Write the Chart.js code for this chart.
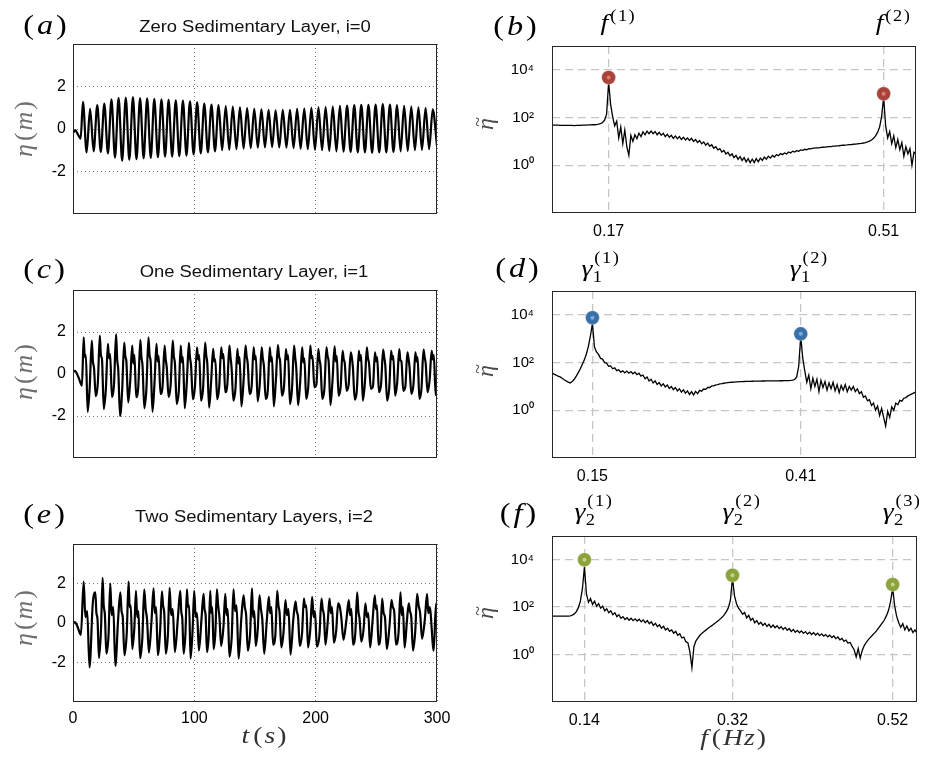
<!DOCTYPE html>
<html><head><meta charset="utf-8">
<script src="https://cdn.jsdelivr.net/npm/chart.js@4.4.1/dist/chart.umd.min.js"></script>
<style>
html,body{margin:0;padding:0;background:#fff;}
#wrap{position:relative;width:934px;height:757px;overflow:hidden;background:#fff;}
#wrap canvas{position:absolute;left:0;top:0;}
</style></head><body><div id="wrap">
<canvas id="cA" width="934" height="757"></canvas>
<canvas id="cB" width="934" height="757"></canvas>
<canvas id="cC" width="934" height="757"></canvas>
<canvas id="cD" width="934" height="757"></canvas>
<canvas id="cE" width="934" height="757"></canvas>
<canvas id="cF" width="934" height="757"></canvas>
</div>
<script>
// ---------------- DATA ----------------
const titles = ['Zero Sedimentary Layer, i=0', 'One Sedimentary Layer, i=1', 'Two Sedimentary Layers, i=2'];
const etaTicks = [-2, 0, 2];
const timeTicks = [0, 100, 200, 300];
const logTicks = [1, 100, 10000];

// time series eta(t) [t (s), eta (m)] (a), (c), (e)
const waveA = [[0,-0.2],[1.8,-0.05],[4,-0.25],[6.3,-0.45],
[8.2,1.28],[11.2,-1.1],[14.1,0.95],[17.0,-1.05],[20.0,1.12],[22.9,-1.08],[25.8,1.2],[28.8,-1.15],[31.7,1.4],[34.6,-1.35],
[37.6,1.47],[40.5,-1.5],[43.5,1.48],[46.4,-1.45],[49.4,1.5],[52.3,-1.42],[55.3,1.46],[58.2,-1.38],[61.1,1.44],[64.1,-1.36],
[67.0,1.42],[70.0,-1.33],[72.9,1.4],[75.9,-1.3],[78.8,1.37],[81.7,-1.3],[84.7,1.35],[87.6,-1.28],[90.6,1.34],[93.5,-1.25],
[96.4,1.3],[99.4,-1.2],[102.3,1.25],[105.3,-1.15],[108.2,1.2],[111.2,-1.1],[114.1,1.15],[117.0,-1.05],[120.0,1.12],[122.9,-1.0],
[125.9,1.08],[128.8,-0.98],[131.7,1.05],[134.7,-0.95],[137.6,1.02],[140.6,-0.92],[143.5,0.98],[146.5,-0.9],[149.4,0.95],[152.3,-0.88],
[155.3,0.92],[158.2,-0.86],[161.2,0.9],[164.1,-0.85],[167.0,0.88],[170.0,-0.87],[172.9,0.9],[175.9,-0.88],[178.8,0.9],[181.8,-0.9],
[184.7,0.95],[187.6,-0.93],[190.6,0.96],[193.5,-0.95],[196.5,1.0],[199.4,-0.98],[202.3,1.02],[205.3,-1.0],[208.2,1.03],[211.2,-1.03],
[214.1,1.06],[217.1,-1.05],[220.0,1.09],[222.9,-1.06],[225.9,1.1],[228.8,-1.08],[231.8,1.12],[234.7,-1.1],[237.6,1.14],[240.6,-1.1],
[243.5,1.14],[246.5,-1.12],[249.4,1.15],[252.4,-1.1],[255.3,1.17],[258.2,-1.1],[261.2,1.15],[264.1,-1.08],[267.1,1.12],[270.0,-1.05],
[272.9,1.09],[275.9,-1.03],[278.8,1.05],[281.8,-1.0],[284.7,1.02],[287.6,-0.98],[290.6,0.98],[293.5,-0.95],[296.5,0.93],[300,-0.8]];

const waveC = [[0,0.08],[1.5,0.15],[4.5,-0.15],[7.4,-0.55],
[8.8,1.75],[9.7,0.8],[10.6,0.9],[12.1,-1.8],[13.8,-0.6],
[15.5,1.59],[16.4,0.6],[17.3,0.3],[18.8,-1.06],[20.5,-0.4],
[22.1,1.83],[23.0,0.9],[23.9,0.7],[25.4,-1.67],[27.1,-0.7],
[28.8,1.43],[29.7,0.75],[30.6,0.95],[32.1,-1.1],[33.8,-0.5],
[35.5,1.9],[36.4,0.7],[37.3,0.2],[38.8,-2.0],[40.5,-0.8],
[42.2,1.5],[43.1,0.85],[44.0,0.6],[45.5,-1.35],[47.2,-0.3],
[48.8,1.35],[49.7,0.5],[50.6,0.9],[52.1,-1.1],[53.8,-0.6],
[55.5,1.63],[56.4,0.8],[57.3,0.4],[58.8,-1.63],[60.5,-0.7],
[62.2,1.75],[63.1,0.9],[64.0,0.6],[65.5,-1.8],[67.2,-0.4],
[68.8,1.43],[69.7,0.6],[70.6,0.85],[72.1,-0.95],[73.8,-0.6],
[75.5,1.35],[76.4,0.7],[77.3,0.3],[78.8,-1.1],[80.5,-0.5],
[82.2,1.59],[83.1,0.85],[84.0,0.5],[85.5,-1.43],[87.2,-0.8],
[88.8,1.35],[89.7,0.55],[90.6,0.8],[92.1,-1.63],[93.8,-0.4],
[95.5,1.48],[96.4,0.8],[97.3,0.4],[98.8,-1.2],[100.5,-0.6],
[102.2,1.27],[103.1,0.7],[104.0,0.9],[105.5,-1.27],[107.2,-0.7],
[108.9,1.5],[109.8,0.9],[110.7,0.5],[112.2,-1.6],[113.9,-0.3],
[115.5,1.2],[116.4,0.6],[117.3,0.7],[118.8,-1.2],[120.5,-0.6],
[122.2,1.27],[123.1,0.75],[124.0,0.95],[125.5,-0.87],[127.2,-0.5],
[128.9,1.35],[129.8,0.8],[130.7,0.3],[132.2,-1.27],[133.9,-0.7],
[135.5,1.2],[136.4,0.5],[137.3,0.8],[138.8,-1.54],[140.5,-0.4],
[142.2,1.35],[143.1,0.85],[144.0,0.5],[145.5,-0.95],[147.2,-0.6],
[148.9,1.27],[149.8,0.7],[150.7,0.85],[152.2,-1.3],[153.9,-0.5],
[155.5,1.27],[156.4,0.75],[157.3,0.4],[158.8,-1.19],[160.5,-0.8],
[162.2,1.27],[163.1,0.6],[164.0,0.8],[165.5,-1.54],[167.2,-0.3],
[168.9,1.38],[169.8,0.85],[170.7,0.6],[172.2,-1.03],[173.9,-0.6],
[175.5,1.19],[176.4,0.7],[177.3,0.9],[178.8,-1.43],[180.5,-0.7],
[182.2,1.35],[183.1,0.8],[184.0,0.3],[185.5,-1.48],[187.2,-0.4],
[188.9,1.27],[189.8,0.55],[190.7,0.75],[192.2,-1.19],[193.9,-0.6],
[195.6,1.35],[196.5,0.75],[197.4,0.85],[198.9,-0.63],[200.6,-0.5],
[202.2,1.19],[203.1,0.7],[204.0,0.4],[205.5,-1.19],[207.2,-0.7],
[208.9,1.27],[209.8,0.85],[210.7,0.6],[212.2,-1.48],[213.9,-0.3],
[215.6,1.32],[216.5,0.6],[217.4,0.85],[218.9,-1.03],[220.6,-0.6],
[222.2,1.1],[223.1,0.7],[224.0,0.5],[225.5,-0.8],[227.2,-0.5],
[228.9,1.03],[229.8,0.8],[230.7,0.3],[232.2,-1.22],[233.9,-0.8],
[235.6,1.1],[236.5,0.65],[237.4,0.9],[238.9,-1.27],[240.6,-0.4],
[242.2,1.27],[243.1,0.75],[244.0,0.5],[245.5,-0.71],[247.2,-0.6],
[248.9,1.03],[249.8,0.6],[250.7,0.8],[252.2,-0.87],[253.9,-0.5],
[255.6,1.16],[256.5,0.8],[257.4,0.4],[258.9,-1.27],[260.6,-0.7],
[262.2,1.1],[263.1,0.7],[264.0,0.85],[265.5,-1.03],[267.2,-0.4],
[268.9,1.19],[269.8,0.65],[270.7,0.6],[272.2,-0.8],[273.9,-0.6],
[275.6,1.03],[276.5,0.75],[277.4,0.3],[278.9,-0.95],[280.6,-0.5],
[282.2,1.03],[283.1,0.6],[284.0,0.8],[285.5,-1.19],[287.2,-0.7],
[288.9,1.16],[289.8,0.8],[290.7,0.5],[292.2,-0.87],[293.9,-0.3],
[295.6,1.1],[296.5,0.7],[297.4,0.9],[298.9,-1.0],[300,-0.5]];

const waveE = [[0,-0.05],[1.5,0.05],[3.5,-0.15],[6.5,-0.6],
[8.8,2.1],[10.2,0.3],[11.7,0.6],[13.6,-2.25],[16.3,1.0],
[18.4,1.55],[19.3,0.5],[20.2,0.2],[21.4,-1.78],[23.1,-0.3],
[24.4,2.28],[25.3,0.9],[26.3,0.4],[27.5,-1.55],[29.3,-0.6],
[30.7,2.0],[31.9,0.4],[33.2,0.8],[34.9,-2.17],[37.2,0.2],
[39.0,1.55],[40.0,0.6],[41.0,0.3],[42.4,-1.63],[44.3,-0.5],
[45.8,2.1],[46.7,0.8],[47.6,0.9],[48.9,-1.32],[50.6,-0.2],
[51.9,1.63],[52.9,0.3],[53.9,0.6],[55.3,-1.78],[57.2,-0.7],
[58.7,1.7],[59.9,0.7],[61.0,0.2],[62.6,-1.5],[64.7,0.1],
[66.4,1.75],[67.4,0.5],[68.5,0.8],[69.9,-1.63],[71.8,-0.4],
[73.3,1.6],[74.2,0.9],[75.2,0.5],[76.5,-1.55],[78.2,-0.6],
[79.6,1.78],[80.9,0.4],[82.2,0.7],[84.0,-1.47],[86.5,0.3],
[88.4,1.63],[89.2,0.6],[90.1,0.2],[91.2,-1.55],[92.7,-0.5],
[93.9,1.7],[94.8,0.8],[95.7,0.9],[96.9,-1.8],[98.6,-0.3],
[99.9,1.63],[101.1,0.3],[102.2,0.5],[103.8,-1.4],[105.9,0.2],
[107.6,1.47],[108.4,0.7],[109.3,0.4],[110.4,-1.47],[111.9,-0.6],
[113.1,1.63],[113.9,0.5],[114.8,0.8],[115.9,-1.32],[117.4,-0.4],
[118.6,1.7],[119.6,0.9],[120.7,0.3],[122.1,-1.16],[124.0,-0.2],
[125.5,1.47],[126.5,0.4],[127.5,0.7],[128.9,-1.7],[130.8,-0.7],
[132.3,1.7],[133.5,0.6],[134.8,0.9],[136.5,-1.8],[138.8,0.3],
[140.6,1.4],[141.6,0.8],[142.7,0.4],[144.1,-1.4],[146.0,-0.5],
[147.5,1.75],[148.4,0.3],[149.4,0.6],[150.6,-1.16],[152.3,-0.3],
[153.7,1.4],[154.9,0.7],[156.0,0.2],[157.6,-1.55],[159.7,0.1],
[161.4,1.32],[162.4,0.5],[163.5,0.8],[164.9,-1.09],[166.8,-0.6],
[168.3,1.63],[169.3,0.9],[170.3,0.5],[171.7,-1.24],[173.6,-0.4],
[175.1,1.16],[176.3,0.4],[177.6,0.7],[179.3,-1.6],[181.6,0.2],
[183.4,1.09],[184.4,0.6],[185.5,0.3],[186.9,-1.16],[188.8,-0.5],
[190.3,1.24],[191.3,0.8],[192.3,0.9],[193.7,-1.24],[195.6,-0.3],
[197.1,1.32],[198.3,0.3],[199.4,0.6],[201.0,-1.2],[203.1,-0.6],
[204.8,1.24],[205.8,0.7],[206.8,0.4],[208.1,-1.1],[210.0,0.1],
[211.4,1.24],[212.5,0.5],[213.5,0.8],[215.0,-1.0],[216.9,-0.4],
[218.5,1.0],[219.8,0.85],[221.1,0.3],[222.9,-0.85],[225.4,0.2],
[227.3,1.16],[228.3,0.4],[229.4,0.7],[230.8,-1.1],[232.7,-0.5],
[234.2,1.55],[235.2,0.6],[236.2,0.2],[237.6,-0.95],[239.5,-0.3],
[241.0,1.0],[242.2,0.3],[243.3,0.5],[244.9,-1.24],[247.0,0.2],
[248.7,1.4],[249.6,0.7],[250.5,0.9],[251.8,-1.1],[253.5,-0.6],
[254.8,1.24],[256.0,0.5],[257.1,0.3],[258.7,-1.32],[260.8,-0.2],
[262.5,1.16],[263.6,0.8],[264.7,0.6],[266.2,-1.1],[268.3,-0.5],
[269.9,1.55],[270.9,0.4],[271.9,0.8],[273.3,-1.24],[275.2,0.1],
[276.7,1.0],[277.7,0.6],[278.8,0.3],[280.2,-1.4],[282.1,-0.4],
[283.6,1.47],[284.8,0.9],[286.1,0.5],[287.7,-0.8],[290.0,0.2],
[291.8,1.47],[292.8,0.5],[294.0,0.8],[297.3,-1.4],[299.2,1.0],[300,0.85]];

// spectra: frequency bins (Hz) and amplitude (b), (d), (f)
const freqGrid = [
0.1,0.1025,0.105,0.1075,0.11,0.1125,0.115,0.1175,0.12,0.1225,0.125,0.1275,0.13,0.1325,0.135,0.1375,0.14,0.1425,0.145,0.1475,
0.15,0.1525,0.155,0.1575,0.16,0.1625,0.165,0.1675,0.17,0.1725,0.175,0.1775,0.18,0.1825,0.185,0.1875,0.19,0.1925,0.195,0.1975,
0.2,0.2025,0.205,0.2075,0.21,0.2125,0.215,0.2175,0.22,0.2225,0.225,0.2275,0.23,0.2325,0.235,0.2375,0.24,0.2425,0.245,0.2475,
0.25,0.2525,0.255,0.2575,0.26,0.2625,0.265,0.2675,0.27,0.2725,0.275,0.2775,0.28,0.2825,0.285,0.2875,0.29,0.2925,0.295,0.2975,
0.3,0.3025,0.305,0.3075,0.31,0.3125,0.315,0.3175,0.32,0.3225,0.325,0.3275,0.33,0.3325,0.335,0.3375,0.34,0.3425,0.345,0.3475,
0.35,0.3525,0.355,0.3575,0.36,0.3625,0.365,0.3675,0.37,0.3725,0.375,0.3775,0.38,0.3825,0.385,0.3875,0.39,0.3925,0.395,0.3975,
0.4,0.4025,0.405,0.4075,0.41,0.4125,0.415,0.4175,0.42,0.4225,0.425,0.4275,0.43,0.4325,0.435,0.4375,0.44,0.4425,0.445,0.4475,
0.45,0.4525,0.455,0.4575,0.46,0.4625,0.465,0.4675,0.47,0.4725,0.475,0.4775,0.48,0.4825,0.485,0.4875,0.49,0.4925,0.495,0.4975,
0.5,0.5025,0.505,0.5075,0.51,0.5125,0.515,0.5175,0.52,0.5225,0.525,0.5275,0.53,0.5325,0.535,0.5375,0.54,0.5425,0.545,0.5475,
0.55];

const specB = [
48,48,48,48,47,47,47,47,47,47,47,46,47,47,47,48,48,48,49,49,
50,50,51,53,56,62,78,140,3000,350,110,45,70,14,40,8,30,6,2.6,18,
10,19,13,22,16,25,19,27,21,27,21,26,19,24,18,22,16,20,15,18,
13.5,17,13,16,12,15,11.5,14,11,13.5,10,12,9,11,8,9.5,7,8.5,6.2,7.2,
5.2,6,4.4,5,3.6,4.2,3,3.5,2.5,3,2.1,2.6,1.8,2.3,1.6,2.1,1.4,1.9,1.3,1.8,
1.3,1.9,1.4,2,1.6,2.2,1.8,2.4,2,2.6,2.2,2.8,2.5,3.1,2.8,3.3,3,3.6,3.3,3.9,
3.6,4.1,3.9,4.4,4.2,4.7,4.5,5,4.9,5.2,5.2,5.4,5.4,5.6,5.7,5.8,5.9,6,6.1,6.3,
6.4,6.5,6.6,6.8,6.9,7,7.1,7.3,7.4,7.6,7.7,7.9,8.1,8.3,8.6,9,9.5,10.2,11.5,13.5,
17,24,40,110,700,45,14,26,8,17,5.5,12,4.5,9,2.4,6,3,5,1,3.5,
3];

const specD = [
37,33,30,27,25,22,19,17,15,14,16,20,27,38,55,85,130,230,480,1300,
4500,450,280,220,150,140,100,95,70,72,55,60,46,50,40,45,37,44,36,42,
34,40,31,36,27,30,21,25,17,20,14,17,12,14.5,10.5,13,9.5,11.5,8.3,10,
7.3,9,6.5,8,5.8,7.2,5.2,6.5,4.6,6,4.4,6.2,5,6.8,6.3,7.8,7.5,9,9,10.5,
10.5,11.5,12,12.8,13,13.6,14,14.4,14.7,15,15.2,15.4,15.6,15.8,16,16.1,16.2,16.3,16.4,16.5,
16.6,16.7,16.8,16.8,16.9,16.9,17,17,17,17.1,17.1,17.2,17.2,17.3,17.3,17.4,17.5,17.6,17.8,18.2,
19.5,25,70,1300,150,45,15,30,8,22,10,20,6,18,9,16,7,14,8,15,
6.5,12,5.5,11,7,12,6,10,7,10,6,8,5,6,3.5,4,2.5,2.8,1.6,2,
1,1.5,0.6,1.2,0.5,0.22,0.9,0.5,1.4,1,2,1.7,2.6,2.4,3.2,3.4,4,4.4,4.9,5.4,
5.9];

const specF = [
42,42,42,42,42,42,42,42,42,43,46,52,65,95,180,600,5000,350,160,230,
130,180,110,140,90,110,70,85,58,70,48,58,40,48,34,40,30,36,28,34,
27,32,26,31,24,29,22,27,20,24,17,21,15,18,13,15.5,11,13,9.5,11,
8,9.5,6.5,7.5,5,5.5,3.5,3.2,1.3,0.28,2.2,3.8,5,6.5,8,9.5,11,13,15,17,
20,23,27,32,38,48,65,95,200,1700,300,140,90,70,50,60,35,45,28,34,
22,27,19,23,17,21,15.5,19,14,17.5,13.5,16.5,12.5,15,11.5,14,10.5,12.5,9.5,11.5,
8.8,10.5,8.3,10,7.8,9.3,7.3,8.8,7,8.4,6.7,8,6.3,7.5,6,7,5.6,6.6,5.2,6.1,
4.7,5.5,4.2,4.8,3.6,4.1,3,3.3,2.2,1.6,0.8,1.8,0.7,1.5,2.4,3.3,4.3,5.3,6.5,8,
10,13,17,22,30,45,75,180,650,110,40,22,14,20,11,16,10,13,8.5,11,
8];

// resonance peaks: frequency, marker amplitude, tick label, superscript label
const peakFreqB = [0.17, 0.51];
const markerB = [4800, 1000];
const tickLabelsB = ['0.17', '0.51'];
const peakSupB = ['(1)', '(2)'];

const peakFreqD = [0.15, 0.4075];
const markerD = [7600, 1600];
const tickLabelsD = ['0.15', '0.41'];
const peakSupD = ['(1)', '(2)'];

const peakFreqF = [0.14, 0.3225, 0.52];
const markerF = [10000, 2200, 900];
const tickLabelsF = ['0.14', '0.32', '0.52'];
const peakSupF = ['(1)', '(2)', '(3)'];

// ---------------- DRAWING ----------------
const SANS = '"Liberation Sans", Arial, Helvetica, sans-serif';
const SERIF = '"Liberation Serif", "Times New Roman", serif';
const SX = 1.15;
const YW = 60, XH = 34, W = 934, H = 757;
Chart.defaults.font.family = SANS;

function fontOf(p){ return (p.it ? 'italic ' : '') + p.size + 'px ' + (p.sans ? SANS : SERIF); }
function drawRun(ctx, parts, x, y, align, color, sx){
  if (sx == null) sx = SX;
  ctx.save();
  let total = 0; const ws = [];
  parts.forEach(p => { ctx.font = fontOf(p); const w = ctx.measureText(p.s).width * sx; ws.push(w); total += w + (p.gap || 0); });
  let cx = align === 'center' ? x - total / 2 : (align === 'right' ? x - total : x);
  ctx.fillStyle = color || '#000'; ctx.textAlign = 'left'; ctx.textBaseline = 'alphabetic';
  parts.forEach((p, i) => {
    cx += (p.gap || 0);
    ctx.font = fontOf(p);
    ctx.save(); ctx.translate(cx, y + (p.dy || 0)); ctx.scale(sx, 1); ctx.fillText(p.s, 0, 0); ctx.restore();
    cx += ws[i];
  });
  ctx.restore();
  return total;
}
function drawRot(ctx, parts, cx, cy, base, color){
  ctx.save(); ctx.translate(cx, cy); ctx.rotate(-Math.PI / 2);
  drawRun(ctx, parts, 0, base, 'center', color, 1);
  ctx.restore();
}
function drawEtaTilde(ctx, cx, cy, color){
  ctx.save(); ctx.translate(cx, cy); ctx.rotate(-Math.PI / 2);
  ctx.fillStyle = color; ctx.textBaseline = 'alphabetic'; ctx.textAlign = 'center';
  ctx.font = 'italic 24px ' + SERIF;
  ctx.fillText('η', 0, 5);
  ctx.font = '18px ' + SERIF;
  ctx.fillText('~', 2, -4);
  ctx.restore();
}
function panelLabel(letter){
  return [{s:'(', size:28}, {s:letter, it:true, size:28, gap:3}, {s:')', size:28, gap:3}];
}
const etaLabel = [{s:'η', it:true, size:26}, {s:'(', size:26, gap:3}, {s:'m', it:true, size:26, gap:2}, {s:')', size:26, gap:2}];

const DECOR = {
  cA: {label:{x:45, y:34, l:'a'}, title:{x:255, y:32, s:titles[0]}, ylab:{x:25, y:129, kind:'eta'}},
  cC: {label:{x:44, y:278, l:'c'}, title:{x:254, y:277, s:titles[1]}, ylab:{x:25, y:372, kind:'eta'}},
  cE: {label:{x:44, y:523, l:'e'}, title:{x:254, y:522, s:titles[2]}, ylab:{x:25, y:618, kind:'eta'},
       xlab:[{s:'t', it:true, size:24}, {s:'(', size:24, gap:4}, {s:'s', it:true, size:24, gap:2}, {s:')', size:24, gap:2}], xlabPos:{x:264, y:743}},
  cB: {label:{x:515, y:35, l:'b'}, ylab:{x:488, y:124, kind:'tilde'},
       peaks:{freqs:peakFreqB, sups:peakSupB, sym:'f', sub:null, dx:-8, mainY:30, supY:21, subY:0}},
  cD: {label:{x:517, y:277, l:'d'}, ylab:{x:488, y:371, kind:'tilde'},
       peaks:{freqs:peakFreqD, sups:peakSupD, sym:'γ', sub:'1', dx:-11, mainY:276, supY:263, subY:282}},
  cF: {label:{x:518, y:522, l:'f'}, ylab:{x:488, y:613, kind:'tilde'},
       peaks:{freqs:peakFreqF, sups:peakSupF, sym:'γ', sub:'2', dx:-10, mainY:519, supY:506, subY:525},
       xlab:[{s:'f', it:true, size:24}, {s:'(', size:24, gap:4}, {s:'H', it:true, size:24, gap:2}, {s:'z', it:true, size:24, gap:1}, {s:')', size:24, gap:2}], xlabPos:{x:733, y:745}}
};

const panelDecor = {
  id: 'panelDecor',
  afterDraw(chart){
    const d = DECOR[chart.canvas.id]; if (!d) return;
    const ctx = chart.ctx, a = chart.chartArea;
    ctx.save();
    ctx.strokeStyle = '#262626'; ctx.lineWidth = 1;
    ctx.strokeRect(Math.round(a.left) + 0.5, Math.round(a.top) + 0.5, Math.round(a.right - a.left) - 1, Math.round(a.bottom - a.top) - 1);
    drawRun(ctx, panelLabel(d.label.l), d.label.x, d.label.y, 'center', '#000');
    if (d.title) drawRun(ctx, [{s:d.title.s, size:16, sans:true}], d.title.x, d.title.y, 'center', '#111');
    if (d.ylab.kind === 'eta') drawRot(ctx, etaLabel, d.ylab.x, d.ylab.y, 7, '#707070');
    else drawEtaTilde(ctx, d.ylab.x, d.ylab.y, '#4a4a4a');
    if (d.xlab) drawRun(ctx, d.xlab, d.xlabPos.x, d.xlabPos.y, 'center', '#333');
    if (d.peaks) {
      const pk = d.peaks, xs = chart.scales.x;
      pk.freqs.forEach((f, i) => {
        const lx = xs.getPixelForValue(f) + pk.dx;
        const w = drawRun(ctx, [{s:pk.sym, it:true, size:24}], lx, pk.mainY, 'left', '#000');
        const supParts = pk.sups[i].split('').map((c, j) => ({s:c, size:16, gap: j ? 1.5 : 0}));
        drawRun(ctx, supParts, lx + w + 2, pk.supY, 'left', '#000');
        if (pk.sub) drawRun(ctx, [{s:pk.sub, size:16}], lx + w + 0.5, pk.subY, 'left', '#000');
      });
    }
    ctx.restore();
  }
};

function padFor(r){ return {left: r.l - YW, top: r.t, right: W - r.r, bottom: H - r.b - XH}; }
function ptsFromPairs(p){ return p.map(q => ({x:q[0], y:q[1]})); }
function ptsZip(xs, ys){ return xs.map((x, i) => ({x:x, y:ys[i]})); }

function timeChart(id, wave, rect, showX){
  return new Chart(document.getElementById(id), {
    type: 'line',
    data: {datasets: [{data: ptsFromPairs(wave), borderColor:'#000', borderWidth:2.2, pointRadius:0,
      cubicInterpolationMode:'monotone', fill:false}]},
    options: {
      responsive:false, animation:false, devicePixelRatio:1,
      layout: {autoPadding:false, padding: padFor(rect)},
      plugins: {legend:{display:false}, tooltip:{enabled:false}, title:{display:false}},
      scales: {
        x: {type:'linear', min:0, max:300,
            afterBuildTicks: s => { s.ticks = timeTicks.map(v => ({value:v})); },
            afterFit: s => { s.height = XH; },
            ticks: {display: showX, color:'#000', font:{family:SANS, size:16}, padding:7, maxRotation:0, autoSkip:false,
                    callback: (v) => String(v)},
            grid: {color:'#7a7a7a', lineWidth:1, drawTicks:false},
            border: {display:false, dash:[1,3]}},
        y: {type:'linear', min:-4, max:4,
            afterBuildTicks: s => { s.ticks = etaTicks.map(v => ({value:v})); },
            afterFit: s => { s.width = YW; },
            ticks: {color:'#000', font:{family:SANS, size:16}, padding:7, callback: (v) => String(v)},
            grid: {color:'#7a7a7a', lineWidth:1, drawTicks:false},
            border: {display:false, dash:[1,3]}}
      }
    },
    plugins: [panelDecor]
  });
}

const SUPS = '⁰¹²³⁴⁵⁶⁷⁸⁹';
function specChart(id, spec, peaks, markers, tickLabels, rect, col, colIn){
  return new Chart(document.getElementById(id), {
    type: 'line',
    data: {datasets: [
      {data: ptsZip(peaks, markers), showLine:false, pointRadius:2, pointBackgroundColor:colIn, pointBorderWidth:0, order:0},
      {data: ptsZip(peaks, markers), showLine:false, pointRadius:7, pointBackgroundColor:col, pointBorderColor:'rgba(255,255,255,0.35)', pointBorderWidth:1, order:1},
      {data: ptsZip(freqGrid, spec), borderColor:'#000', borderWidth:1.3, pointRadius:0, tension:0, fill:false, order:2}
    ]},
    options: {
      responsive:false, animation:false, devicePixelRatio:1,
      layout: {autoPadding:false, padding: padFor(rect)},
      plugins: {legend:{display:false}, tooltip:{enabled:false}, title:{display:false}},
      scales: {
        x: {type:'linear', min:0.1, max:0.55,
            afterBuildTicks: s => { s.ticks = peaks.map(v => ({value:v})); },
            afterFit: s => { s.height = XH; },
            ticks: {color:'#000', font:{family:SANS, size:16}, padding:9, maxRotation:0, autoSkip:false,
                    callback: (v, i) => tickLabels[i]},
            grid: {color:'#c6c6c6', lineWidth:1.3, drawTicks:false},
            border: {display:false, dash:[8,5]}},
        y: {type:'logarithmic', min:0.01, max:100000,
            afterBuildTicks: s => { s.ticks = logTicks.map(v => ({value:v})); },
            afterFit: s => { s.width = YW; },
            ticks: {color:'#000', font:{family:SANS, size:15}, padding:18,
                    callback: (v) => '10' + SUPS[Math.round(Math.log10(v))]},
            grid: {color:'#c6c6c6', lineWidth:1.3, drawTicks:false},
            border: {display:false, dash:[8,5]}}
      }
    },
    plugins: [panelDecor]
  });
}

timeChart('cA', waveA, {l:73, t:44, r:437, b:214}, false);
timeChart('cC', waveC, {l:73, t:290, r:437, b:458}, false);
timeChart('cE', waveE, {l:73, t:544, r:437, b:702}, true);
specChart('cB', specB, peakFreqB, markerB, tickLabelsB, {l:552, t:46, r:916, b:213}, '#a8433c', '#e27c72');
specChart('cD', specD, peakFreqD, markerD, tickLabelsD, {l:552, t:291, r:916, b:458}, '#3b6fa7', '#7eaadb');
specChart('cF', specF, peakFreqF, markerF, tickLabelsF, {l:552, t:536, r:917, b:702}, '#8ca33d', '#c4d684');
</script>
</body></html>
